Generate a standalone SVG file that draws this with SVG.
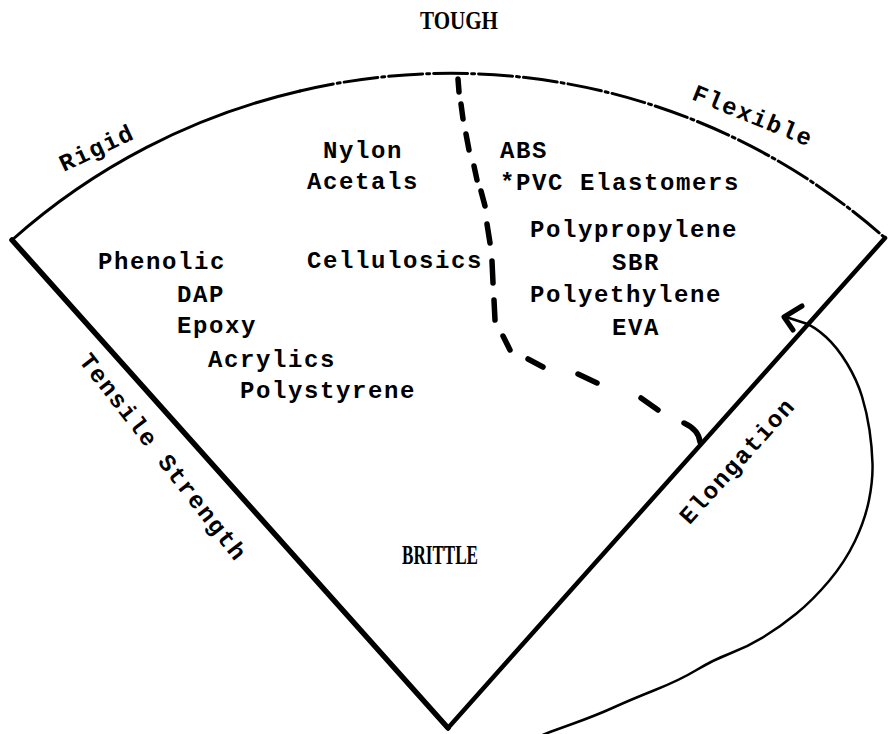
<svg xmlns="http://www.w3.org/2000/svg" width="888" height="734" viewBox="0 0 888 734">
<style>
.t{font-family:"Liberation Mono","Courier New",monospace;font-size:24px;font-weight:bold;letter-spacing:1.6px;fill:#000}
.s{font-family:"Liberation Serif","Times New Roman",serif;font-size:25px;font-weight:bold;fill:#000}
.edge{fill:none;stroke:#000;stroke-linecap:round;stroke-linejoin:round}
</style>
<rect width="888" height="734" fill="#fff"/>
<g id="fan">
<path class="edge" d="M 12 240 A 654 654 0 0 1 300 91" stroke-width="3"/>
<path class="edge" d="M 300 91 A 654 654 0 0 1 885 238" stroke-width="3" stroke-dasharray="34 4 3 4" stroke-linecap="butt"/>
<path class="edge" d="M 12 240 L 448 728" stroke-width="5.5"/>
<path class="edge" d="M 448 728 L 885 238" stroke-width="4.5"/>
</g>
<g id="labels">
<text class="s" x="459" y="29" text-anchor="middle" textLength="78" lengthAdjust="spacingAndGlyphs">TOUGH</text>
<text class="s" x="440" y="564" text-anchor="middle" textLength="76" lengthAdjust="spacingAndGlyphs" style="font-size:27px">BRITTLE</text>
<text class="t" text-anchor="middle" transform="translate(100 155) rotate(-25)">Rigid</text>
<text class="t" text-anchor="middle" transform="translate(750 123) rotate(22)">Flexible</text>
<text class="t" text-anchor="middle" transform="translate(157 462) rotate(52)">Tensile Strength</text>
<text class="t" text-anchor="middle" transform="translate(743 466) rotate(-48)">Elongation</text>
</g>
<g id="rigid-group">
<text class="t" x="323" y="158">Nylon</text>
<text class="t" x="307" y="189">Acetals</text>
<text class="t" x="307" y="268">Cellulosics</text>
<text class="t" x="98" y="269">Phenolic</text>
<text class="t" x="177" y="302">DAP</text>
<text class="t" x="177" y="333">Epoxy</text>
<text class="t" x="208" y="367">Acrylics</text>
<text class="t" x="240" y="398">Polystyrene</text>
</g>
<g id="flexible-group">
<text class="t" x="500" y="158">ABS</text>
<text class="t" x="500" y="190">*PVC Elastomers</text>
<text class="t" x="530" y="237">Polypropylene</text>
<text class="t" x="612" y="270">SBR</text>
<text class="t" x="530" y="302">Polyethylene</text>
<text class="t" x="612" y="335">EVA</text>
</g>
<g id="connectors">
<path class="edge" stroke-width="5.5" d="M 458 79 L 459 92 M 461 104 L 463 119 M 466 134 L 469 150 M 474 166 L 477 180 M 481 191 L 485 206 M 487 224 L 490 243 M 492 261 L 493 283 M 494 300 L 495 320 M 503 336 L 510 350 M 528 359 L 543 367 M 578 374 L 597 383 M 641 398 L 658 410 M 684 423 Q 699 430 700 442"/>
<path class="edge" stroke-width="2.5" d="M 540 736 L 550 732 L 573.5 723.5 Q 597 715 613.5 707.5 Q 630 700 655 690 Q 680 680 696.5 670 Q 713 660 730 653.5 Q 747 647 763.5 637 Q 780 627 796.5 613.5 Q 813 600 829 581 Q 845 562 855 541 Q 865 520 869 500 Q 873 480 872.5 463.5 Q 872 447 869.5 430 Q 867 413 862 396.5 Q 857 380 847 363.5 Q 837 347 826 337 Q 815 327 806 323.5 L 786 317"/>
<path class="edge" stroke-width="5" d="M 802 306 L 784 317 L 793 330"/>
</g>
</svg>
